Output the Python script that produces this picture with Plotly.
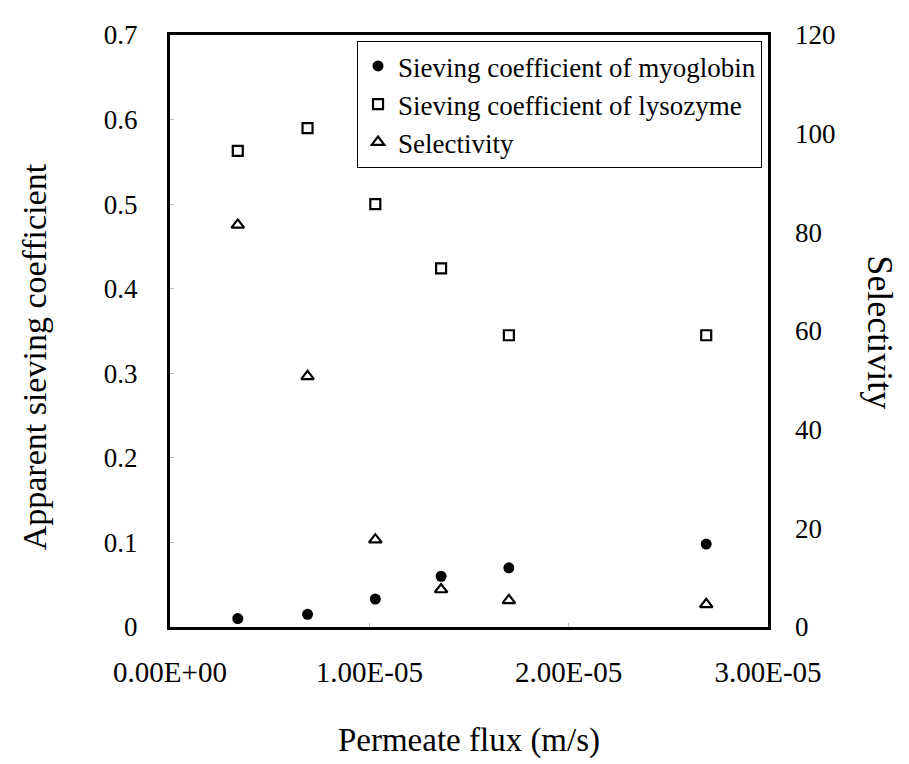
import plotly.graph_objects as go

flux = [3.4e-6, 6.9e-6, 1.03e-5, 1.36e-5, 1.70e-5, 2.69e-5]
sc_myoglobin = [0.010, 0.015, 0.033, 0.060, 0.070, 0.098]
sc_lysozyme = [0.563, 0.590, 0.500, 0.424, 0.345, 0.345]
selectivity = [81.5, 50.8, 17.7, 7.6, 5.4, 4.6]

x_ticks = [0, 1e-5, 2e-5, 3e-5]
x_ticklabels = ["0.00E+00", "1.00E-05", "2.00E-05", "3.00E-05"]
y_ticks = [0, 0.1, 0.2, 0.3, 0.4, 0.5, 0.6, 0.7]
y_ticklabels = ["0", "0.1", "0.2", "0.3", "0.4", "0.5", "0.6", "0.7"]
y2_ticks = [0, 20, 40, 60, 80, 100, 120]

FONT = "Liberation Serif, Times New Roman, serif"

fig = go.Figure()
fig.add_trace(go.Scatter(x=flux, y=sc_myoglobin, mode="markers",
                         name="Sieving coefficient of myoglobin",
                         marker=dict(symbol="circle", size=11, color="black")))
fig.add_trace(go.Scatter(x=flux, y=sc_lysozyme, mode="markers",
                         name="Sieving coefficient of lysozyme",
                         marker=dict(symbol="square-open", size=10, color="black",
                                     line=dict(width=2.2, color="black"))))
fig.add_trace(go.Scatter(x=flux, y=selectivity, mode="markers", yaxis="y2",
                         name="Selectivity",
                         marker=dict(symbol="triangle-up-open", size=11, color="black",
                                     line=dict(width=2.2, color="black"))))

fig.update_layout(
    width=909, height=764,
    margin=dict(l=162, r=149, t=21, b=145),
    paper_bgcolor="white", plot_bgcolor="white",
    font=dict(family=FONT, size=27, color="black"),
    showlegend=True,
    legend=dict(x=0.99, y=0.99, xanchor="right", yanchor="top",
                bordercolor="black", borderwidth=1, bgcolor="white",
                font=dict(family=FONT, size=27), tracegroupgap=0,
                itemsizing="trace"),
    xaxis=dict(range=[0, 3e-5], tickvals=x_ticks, ticktext=x_ticklabels,
               showgrid=False, zeroline=False, showline=True, linecolor="black",
               linewidth=3, mirror=True, ticks="inside", ticklen=4,
               tickcolor="#bbbbbb", ticklabelstandoff=17,
               tickfont=dict(family=FONT, size=29),
               title=dict(text="Permeate flux (m/s)", standoff=42,
                          font=dict(family=FONT, size=33))),
    yaxis=dict(range=[0, 0.7], tickvals=y_ticks, ticktext=y_ticklabels,
               showgrid=False, zeroline=False, showline=True, linecolor="black",
               linewidth=3, mirror=True, ticks="inside", ticklen=4,
               tickcolor="#bbbbbb", ticklabelstandoff=24,
               tickfont=dict(family=FONT, size=27)),
    yaxis2=dict(range=[0, 120], tickvals=y2_ticks, overlaying="y", side="right",
                showgrid=False, zeroline=False, showline=False,
                ticks="", ticklabelstandoff=26,
                tickfont=dict(family=FONT, size=27)),
    annotations=[
        dict(text="Apparent sieving coefficient", textangle=-90, xref="paper", yref="paper",
             x=-0.226, y=0.457, xanchor="center", yanchor="middle",
             showarrow=False, font=dict(family=FONT, size=34)),
        dict(text="Selectivity", textangle=90, xref="paper", yref="paper",
             x=1.187, y=0.498, xanchor="center", yanchor="middle",
             showarrow=False, font=dict(family=FONT, size=36)),
    ],
)

fig.write_html("out.html")
